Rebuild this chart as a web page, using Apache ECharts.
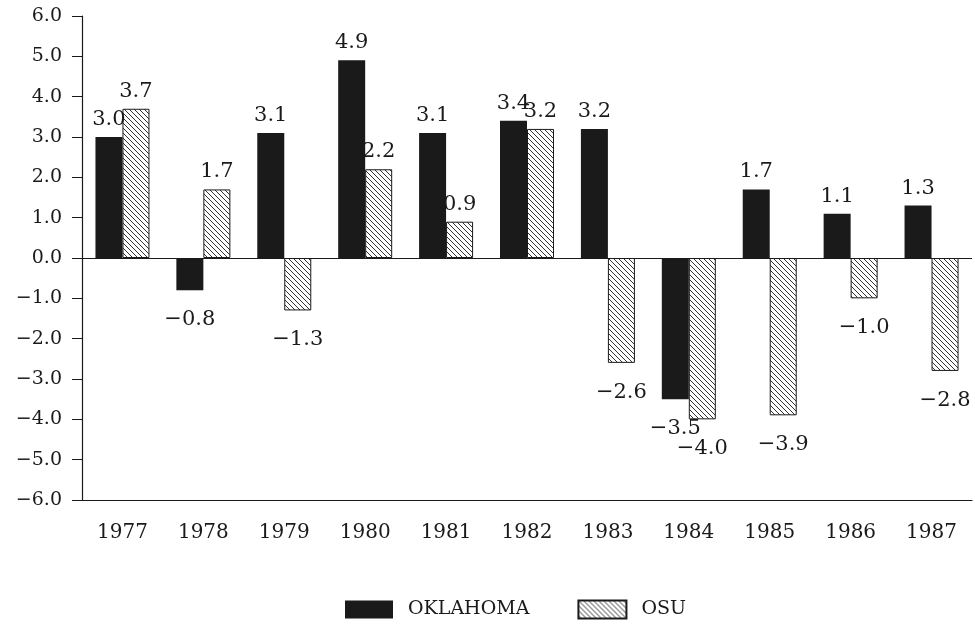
<!DOCTYPE html>
<html>
<head>
<meta charset="utf-8">
<script src="https://cdn.jsdelivr.net/npm/echarts@6/dist/echarts.min.js"></script>
<style>
  html, body { margin: 0; padding: 0; background: #fff; }
  #chart { width: 975px; height: 632px; }
</style>
</head>
<body>
<div id="chart"></div>
<script>
// years on the x axis
const years = ['1977', '1978', '1979', '1980', '1981', '1982', '1983', '1984', '1985', '1986', '1987']
// percent change per year
const oklahoma = [3.0, -0.8, 3.1, 4.9, 3.1, 3.4, 3.2, -3.5, 1.7, 1.1, 1.3]
const osu = [3.7, 1.7, -1.3, 2.2, 0.9, 3.2, -2.6, -4.0, -3.9, -1.0, -2.8]

const ink = '#1a1a1a'
const font = 'DejaVu Serif'

// "-1.0" -> "−1.0" like the printed figure
function fmt(v) {
  return Number(v).toFixed(1).replace('-', '\u2212')
}

// diagonal hatching for the OSU bars
function hatch() {
  const s = 5
  const c = document.createElement('canvas')
  c.width = s
  c.height = s
  const ctx = c.getContext('2d')
  ctx.fillStyle = '#fff'
  ctx.fillRect(0, 0, s, s)
  ctx.strokeStyle = '#333'
  ctx.lineWidth = 1
  ctx.beginPath()
  ctx.moveTo(0, 0); ctx.lineTo(s, s)
  ctx.moveTo(-1, s - 1); ctx.lineTo(1, s + 1)
  ctx.moveTo(s - 1, -1); ctx.lineTo(s + 1, 1)
  ctx.stroke()
  return { image: c, repeat: 'repeat' }
}

function barLabel() {
  return {
    show: true,
    position: 'top',
    distance: 7,
    color: ink,
    fontFamily: font,
    fontSize: 21,
    formatter: p => fmt(p.value)
  }
}

// negative bars get their label underneath
function withLabels(values) {
  return values.map(v => ({
    value: v,
    label: v < 0 ? { position: 'bottom', distance: 19 } : {}
  }))
}

const chart = echarts.init(document.getElementById('chart'))

chart.setOption({
  backgroundColor: '#fff',
  animation: false,
  textStyle: { fontFamily: font, color: ink },
  grid: {
    left: 82,
    right: 3,
    top: 16,
    bottom: 132
  },
  legend: {
    top: 593,
    left: 340,
    itemWidth: 48,
    itemHeight: 18,
    itemGap: 48,
    icon: 'rect',
    textStyle: { fontFamily: font, fontSize: 19, lineHeight: 20, color: ink, padding: [3, 0, 0, 10] },
    data: ['OKLAHOMA', 'OSU']
  },
  xAxis: {
    type: 'category',
    data: years,
    axisLine: { onZero: false, lineStyle: { color: ink, width: 1.2 } },
    axisTick: { alignWithLabel: true, length: 8, lineStyle: { color: ink } },
    axisLabel: { color: ink, fontFamily: font, fontSize: 20, margin: 23 },
    splitLine: { show: false }
  },
  yAxis: {
    type: 'value',
    min: -6,
    max: 6,
    interval: 1,
    axisLine: { show: true, lineStyle: { color: ink, width: 1.2 } },
    axisTick: { show: true, length: 10, lineStyle: { color: ink } },
    axisLabel: { color: ink, fontFamily: font, fontSize: 19, margin: 20, formatter: fmt },
    splitLine: { show: false }
  },
  series: [
    {
      name: 'OKLAHOMA',
      type: 'bar',
      barWidth: 27,
      barGap: '0%',
      data: withLabels(oklahoma),
      itemStyle: { color: ink },
      label: barLabel(),
      markLine: {
        silent: true,
        symbol: ['none', 'none'],
        label: { show: false },
        lineStyle: { color: ink, width: 1.2, type: 'solid' },
        data: [{ yAxis: 0 }]
      }
    },
    {
      name: 'OSU',
      type: 'bar',
      barWidth: 27,
      barGap: '0%',
      data: withLabels(osu),
      itemStyle: { color: hatch(), borderColor: ink, borderWidth: 1 },
      label: barLabel()
    }
  ]
})
</script>
</body>
</html>
